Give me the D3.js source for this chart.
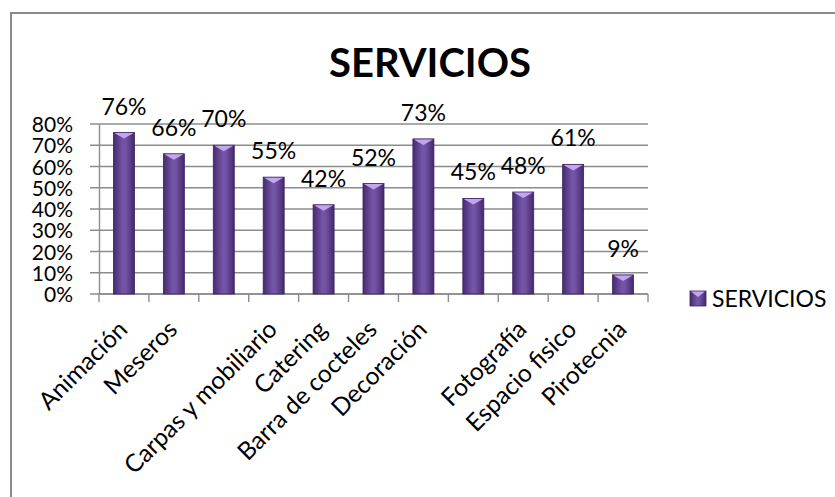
<!DOCTYPE html>
<html><head><meta charset="utf-8">
<script src="https://cdn.jsdelivr.net/npm/d3@7"></script>
<style>body{margin:0;background:#fff}svg{display:block}text{font-family:Lato,"Noto Sans",sans-serif;fill:#000}</style>
</head><body>
<svg id="c" width="835" height="497"></svg>
<script>
// 11 bars; two categories carry no label in the reference
const categories = ["Animación","Meseros","","Carpas y mobiliario","Catering","Barra de cocteles","Decoración","","Fotografía","Espacio fisico","Pirotecnia"];
const values = [0.76,0.66,0.70,0.55,0.42,0.52,0.73,0.45,0.48,0.61,0.09];
const yTicks = [0,0.1,0.2,0.3,0.4,0.5,0.6,0.7,0.8];
const seriesName = "SERVICIOS";
const title = "SERVICIOS";

const svg = d3.select("#c");
const defs = svg.append("defs");
const g = defs.append("linearGradient").attr("id","barg").attr("x1","0").attr("x2","1").attr("y1","0").attr("y2","0");
g.append("stop").attr("offset","0").attr("stop-color","#462b70");
g.append("stop").attr("offset","0.45").attr("stop-color","#7555a8");
g.append("stop").attr("offset","0.6").attr("stop-color","#7152a3");
g.append("stop").attr("offset","1").attr("stop-color","#44296c");

// outer frame
svg.append("rect").attr("x",11).attr("y",13).attr("width",1000).attr("height",1000)
  .attr("fill","none").attr("stroke","#8a8a8a").attr("stroke-width",2);

const idx = d3.range(values.length);
const x = d3.scaleBand().domain(idx).range([99,648]).paddingInner(0).paddingOuter(0);
const y = d3.scaleLinear().domain([0,0.8]).range([294,124]);

// gridlines
svg.append("g").selectAll("line").data(yTicks).join("line")
  .attr("x1",90).attr("x2",648).attr("y1",d=>y(d)).attr("y2",d=>y(d))
  .attr("stroke","#8c8c8c").attr("stroke-width",1.4);

// y axis
const yAxis = d3.axisLeft(y).tickValues(yTicks).tickFormat(d3.format(".0%")).tickSize(0).tickPadding(26);
const ya = svg.append("g").attr("transform","translate(99,0)").call(yAxis);
ya.select(".domain").attr("stroke","#8c8c8c").attr("stroke-width",1.4);
ya.selectAll("text").attr("font-size",21).attr("font-family","Lato").attr("dy","0.36em");

// x axis
const xa = svg.append("g").attr("transform","translate(0,294)");
xa.append("line").attr("x1",99).attr("x2",648).attr("stroke","#8c8c8c").attr("stroke-width",1.4);
const bounds = idx.map(i=>x(i)).concat([x(values.length-1)+x.bandwidth()]);
xa.selectAll("line.t").data(bounds).join("line").attr("class","t")
  .attr("x1",d=>d).attr("x2",d=>d).attr("y1",0).attr("y2",8)
  .attr("stroke","#8c8c8c").attr("stroke-width",1.4);
xa.selectAll("text").data(idx).join("text")
  .attr("text-anchor","end").attr("font-size",24.5)
  .attr("transform",i=>`translate(${x(i)+x.bandwidth()/2+5},${37}) rotate(-45)`)
  .text(i=>categories[i]);

// bars
const bw = 21;
const bars = svg.append("g").selectAll("g").data(idx).join("g");
bars.append("rect")
  .attr("x",i=>x(i)+x.bandwidth()/2-bw/2).attr("width",bw)
  .attr("y",i=>y(values[i])).attr("height",i=>y(0)-y(values[i]))
  .attr("fill","url(#barg)").attr("stroke","#3a2260").attr("stroke-width",0.8);
bars.append("path")
  .attr("d",i=>{const cx=x(i)+x.bandwidth()/2, t=y(values[i]);
     return `M${cx-bw/2+1},${t+0.5} L${cx+bw/2-1},${t+0.5} L${cx},${t+6} Z`;})
  .attr("fill","#c3a6f0");

// value labels
svg.append("g").selectAll("text").data(idx).join("text")
  .attr("x",i=>x(i)+x.bandwidth()/2).attr("y",i=>y(values[i])-18)
  .attr("text-anchor","middle").attr("font-size",23)
  .text(i=>d3.format(".0%")(values[i]));

// title
svg.append("text").attr("x",430).attr("y",77).attr("text-anchor","middle")
  .attr("font-size",40).attr("font-weight","bold").text(title);

// legend
const lg = svg.append("g").attr("transform","translate(690,291)");
lg.append("rect").attr("width",16).attr("height",15).attr("fill","url(#barg)").attr("stroke","#3a2260").attr("stroke-width",0.8);
lg.append("path").attr("d","M1,0.5 L15,0.5 L8,6 Z").attr("fill","#c3a6f0");
lg.append("text").attr("x",22).attr("y",16).attr("font-size",23).text(seriesName);
</script>
</body></html>
